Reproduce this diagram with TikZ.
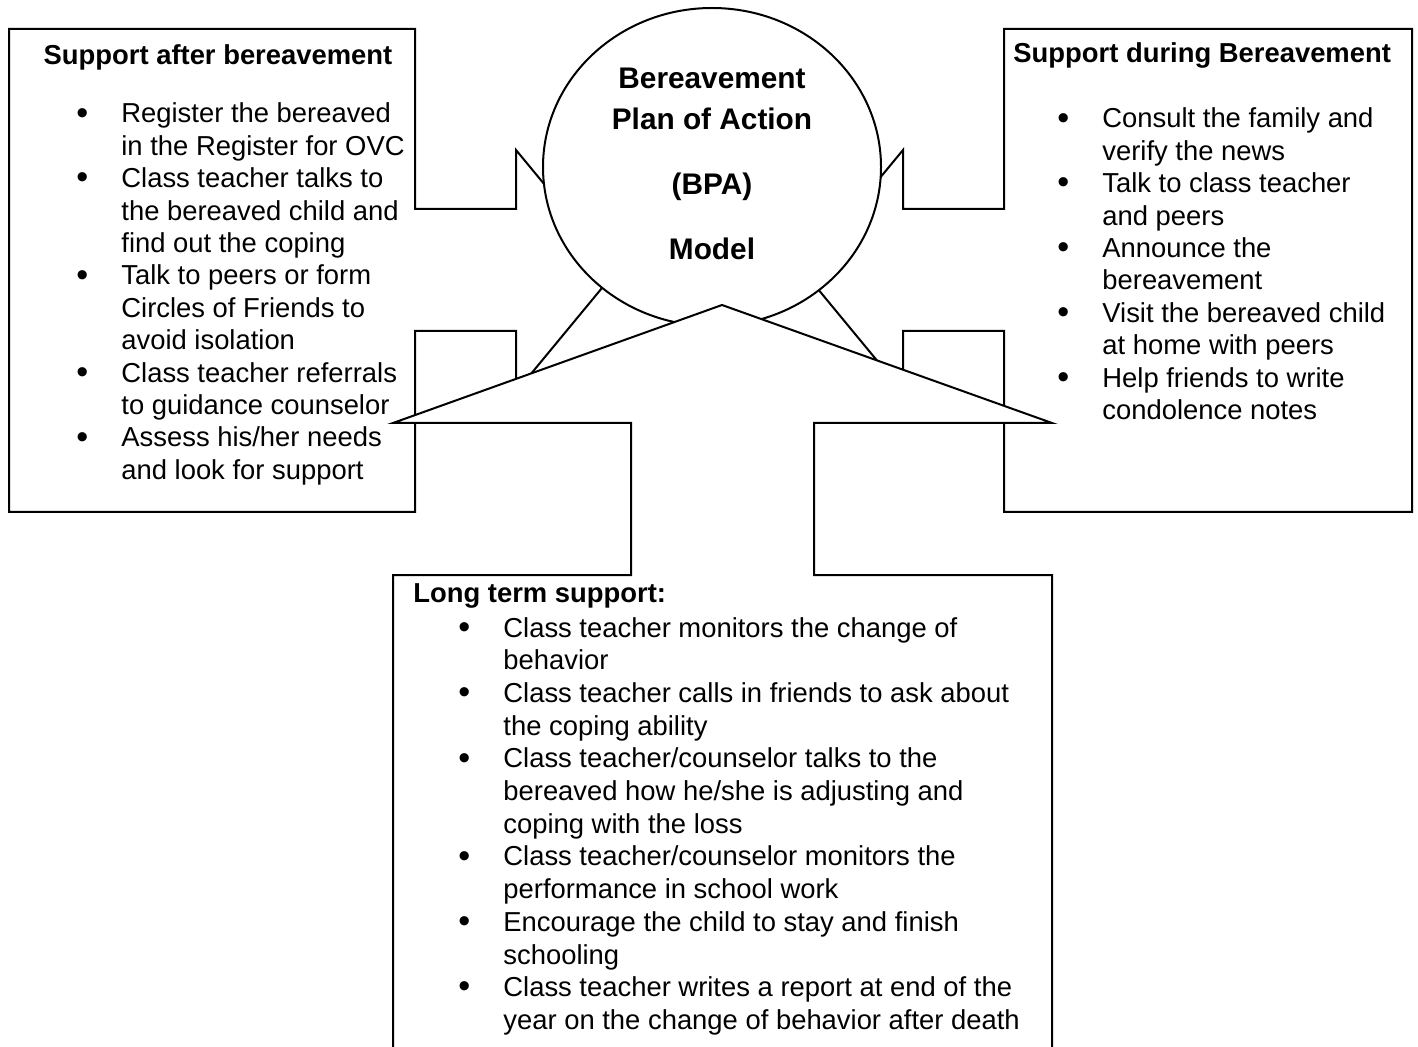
\documentclass[tikz,border=0pt]{standalone}
\usepackage{fontspec}
\setmainfont{Liberation Sans}

% a slightly heavier bullet than the text font gives
\newcommand{\bul}{\raisebox{-0.6pt}{\fontsize{17}{16}\selectfont\textbullet}}

\begin{document}
\begin{tikzpicture}[x=0.5pt, y=-0.5pt,
	% outline of the callouts and of the ellipse
	callout/.style={draw=black, fill=white, line width=1pt, line join=miter},
	% headings and list text
	head text/.style={inner sep=0pt, font=\bfseries\fontsize{13.7}{16.2}\selectfont},
	list text/.style={anchor=base west, inner sep=0pt, font=\fontsize{13.7}{16.2}\selectfont},
	bpa text/.style={anchor=base, inner sep=0pt, font=\bfseries\fontsize{14.9}{17}\selectfont}
	]
	\useasboundingbox (0,0) rectangle (1418,1047);

	% left box, arrow pointing right
	\draw[callout] (9,29) -- (415,29) -- (415,209) -- (516,209) -- (516,150) -- (616,271)
		-- (516,392) -- (516,331) -- (415,331) -- (415,512) -- (9,512) -- cycle;

	% right box, arrow pointing left
	\draw[callout] (1412,29) -- (1004,29) -- (1004,209) -- (903,209) -- (903,150) -- (803,271)
		-- (903,392) -- (903,331) -- (1004,331) -- (1004,512) -- (1412,512) -- cycle;

	% the model in the middle
	\draw[callout] (712,167) ellipse [x radius=169, y radius=159];

	% bottom box, arrow pointing up
	\draw[callout] (393,1070) -- (393,575) -- (631,575) -- (631,423) -- (393,423) -- (722,305)
		-- (1052,423) -- (814,423) -- (814,575) -- (1052,575) -- (1052,1070);

	% --- text of the model ---
	\node[bpa text] (bpa1) at (712,89) {Bereavement};
	\node[bpa text] (bpa2) at (712,130) {Plan of Action};
	\node[bpa text] (bpa3) at (712,195) {(BPA)};
	\node[bpa text] (bpa4) at (712,260) {Model};

	% --- after ---
	\node[head text, anchor=base] (afterhead) at (218,65) {Support after bereavement};
	\node[list text] (afterlist) at (76,123) {\begin{tabular}[t]{@{}p{22.5pt}@{}l@{}}
		\bul & Register the bereaved\\
		     & in the Register for OVC\\
		\bul & Class teacher talks to\\
		     & the bereaved child and\\
		     & find out the coping\\
		\bul & Talk to peers or form\\
		     & Circles of Friends to\\
		     & avoid isolation\\
		\bul & Class teacher referrals\\
		     & to guidance counselor\\
		\bul & Assess his/her needs\\
		     & and look for support
	\end{tabular}};

	% --- during ---
	\node[head text, anchor=base west] (duringhead) at (1013,63) {Support during Bereavement};
	\node[list text] (duringlist) at (1057,128) {\begin{tabular}[t]{@{}p{22.5pt}@{}l@{}}
		\bul & Consult the family and\\
		     & verify the news\\
		\bul & Talk to class teacher\\
		     & and peers\\
		\bul & Announce the\\
		     & bereavement\\
		\bul & Visit the bereaved child\\
		     & at home with peers\\
		\bul & Help friends to write\\
		     & condolence notes
	\end{tabular}};

	% --- long term ---
	\node[head text, anchor=base west] (longhead) at (413,603) {Long term support:};
	\node[list text, font=\fontsize{13.7}{16.35}\selectfont] (longlist) at (458,637) {\begin{tabular}[t]{@{}p{22.5pt}@{}l@{}}
		\bul & Class teacher monitors the change of\\
		     & behavior\\
		\bul & Class teacher calls in friends to ask about\\
		     & the coping ability\\
		\bul & Class teacher/counselor talks to the\\
		     & bereaved how he/she is adjusting and\\
		     & coping with the loss\\
		\bul & Class teacher/counselor monitors the\\
		     & performance in school work\\
		\bul & Encourage the child to stay and finish\\
		     & schooling\\
		\bul & Class teacher writes a report at end of the\\
		     & year on the change of behavior after death
	\end{tabular}};
\end{tikzpicture}
\end{document}
